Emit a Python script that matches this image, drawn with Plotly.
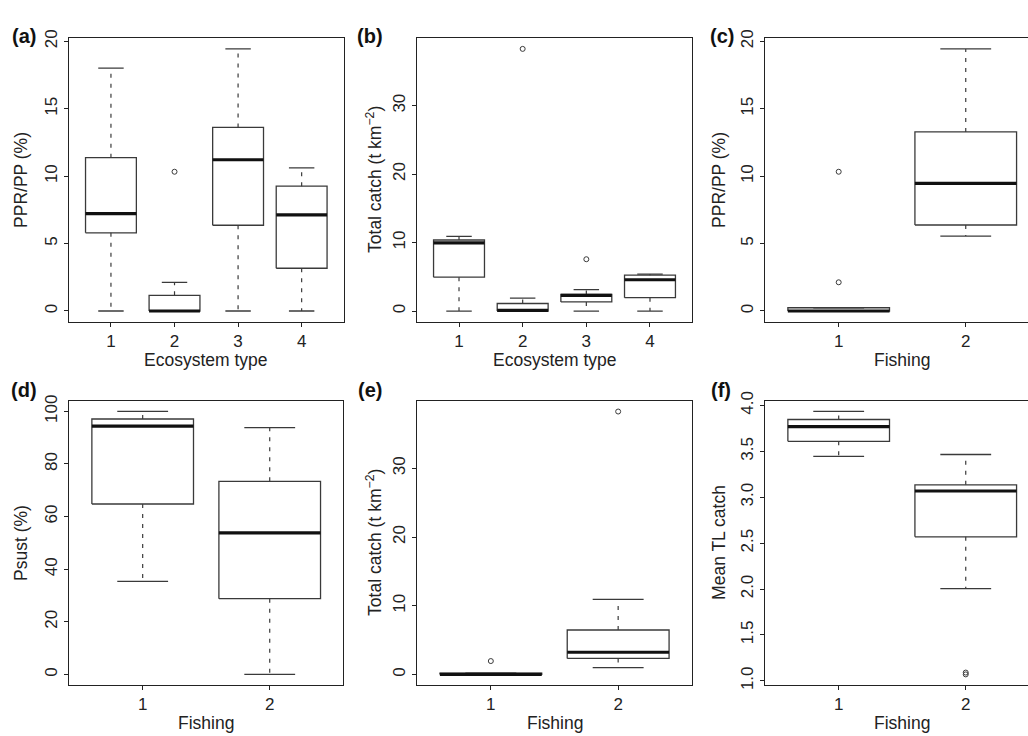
import plotly.graph_objects as go

# ---------------- data ----------------
# (a) PPR/PP (%) by ecosystem type
A_CAT = [1, 2, 3, 4]
A_LO = [0.0, 0.0, 0.0, 0.0]
A_Q1 = [5.80, 0.0, 6.36, 3.17]
A_MED = [7.23, 0.0, 11.22, 7.13]
A_Q3 = [11.37, 1.16, 13.62, 9.26]
A_HI = [18.02, 2.13, 19.44, 10.62]
A_OUT_X = [2]
A_OUT_Y = [10.33]

# (b) Total catch by ecosystem type
B_CAT = [1, 2, 3, 4]
B_LO = [0.0, 0.0, 0.0, 0.0]
B_Q1 = [4.95, 0.0, 1.33, 1.95]
B_MED = [9.95, 0.1, 2.29, 4.57]
B_Q3 = [10.38, 1.10, 2.43, 5.24]
B_HI = [10.90, 1.90, 3.14, 5.38]
B_OUT_X = [2, 3]
B_OUT_Y = [38.3, 7.57]

# (c) PPR/PP (%) by fishing
C_CAT = [1, 2]
C_LO = [0.0, 5.56]
C_Q1 = [0.0, 6.38]
C_MED = [0.0, 9.46]
C_Q3 = [0.24, 13.28]
C_HI = [0.24, 19.44]
C_OUT_X = [1, 1]
C_OUT_Y = [10.33, 2.13]

# (d) Psust (%) by fishing
D_CAT = [1, 2]
D_LO = [35.4, 0.0]
D_Q1 = [64.8, 28.8]
D_MED = [94.4, 53.8]
D_Q3 = [97.1, 73.4]
D_HI = [100.0, 93.8]
D_OUT_X = []
D_OUT_Y = []

# (e) Total catch by fishing
E_CAT = [1, 2]
E_LO = [0.0, 1.0]
E_Q1 = [0.0, 2.33]
E_MED = [0.0, 3.23]
E_Q3 = [0.2, 6.47]
E_HI = [0.2, 10.94]
E_OUT_X = [1, 2]
E_OUT_Y = [1.95, 38.28]

# (f) Mean TL catch by fishing
F_CAT = [1, 2]
F_LO = [3.445, 2.004]
F_Q1 = [3.609, 2.569]
F_MED = [3.769, 3.068]
F_Q3 = [3.847, 3.135]
F_HI = [3.936, 3.466]
F_OUT_X = [2, 2]
F_OUT_Y = [1.07, 1.09]

A_YTICKS = [0, 5, 10, 15, 20]
B_YTICKS = [0, 10, 20, 30]
C_YTICKS = [0, 5, 10, 15, 20]
D_YTICKS = [0, 20, 40, 60, 80, 100]
E_YTICKS = [0, 10, 20, 30]
F_YTICKS = [1.0, 1.5, 2.0, 2.5, 3.0, 3.5, 4.0]
F_YTICKTEXT = ["1.0", "1.5", "2.0", "2.5", "3.0", "3.5", "4.0"]

# ---------------- layout geometry ----------------
W, H = 1028, 736
FONT = "Liberation Sans, Arial, Helvetica, sans-serif"
BOXC = "#3a3a3a"
FRAME = "#222222"


def fx(s):  # screen x px -> paper fraction
    return s / W


def fy(s):  # screen y px -> paper fraction
    return 1 - s / H


fig = go.Figure()

panels = [
    # label, data, axis id, xdom px, ydom px, xrange, yrange, yticks, yticktext, ytitle, xtitle, right line, x-title centre px
    ("(a)", (A_CAT, A_LO, A_Q1, A_MED, A_Q3, A_HI, A_OUT_X, A_OUT_Y), 1, (69, 343.6), (29, 318),
     [0.34, 4.66], [-0.78, 20.22], A_YTICKS, None, "PPR/PP (%)", "Ecosystem type", True, 206),
    ("(b)", (B_CAT, B_LO, B_Q1, B_MED, B_Q3, B_HI, B_OUT_X, B_OUT_Y), 2, (417, 692), (29, 318),
     [0.34, 4.66], [-1.53, 39.83], B_YTICKS, None, "Total catch (t km<sup>−2</sup>)", "Ecosystem type", True, 554.5),
    ("(c)", (C_CAT, C_LO, C_Q1, C_MED, C_Q3, C_HI, C_OUT_X, C_OUT_Y), 3, (765, 1028), (29, 318),
     [0.42, 2.49], [-0.78, 20.22], C_YTICKS, None, "PPR/PP (%)", "Fishing", False, 902),
    ("(d)", (D_CAT, D_LO, D_Q1, D_MED, D_Q3, D_HI, D_OUT_X, D_OUT_Y), 4, (69, 343.4), (399, 689),
     [0.42, 2.58], [-4.0, 104.0], D_YTICKS, None, "Psust (%)", "Fishing", True, 206),
    ("(e)", (E_CAT, E_LO, E_Q1, E_MED, E_Q3, E_HI, E_OUT_X, E_OUT_Y), 5, (417, 692), (399, 689),
     [0.42, 2.58], [-1.53, 39.83], E_YTICKS, None, "Total catch (t km<sup>−2</sup>)", "Fishing", True, 554.5),
    ("(f)", (F_CAT, F_LO, F_Q1, F_MED, F_Q3, F_HI, F_OUT_X, F_OUT_Y), 6, (765, 1028), (399, 689),
     [0.42, 2.49], [0.955, 4.05], F_YTICKS, F_YTICKTEXT, "Mean TL catch", "Fishing", False, 902),
]

label_pos = {"(a)": (24, 27), "(b)": (370, 27), "(c)": (722, 27),
             "(d)": (24, 388), "(e)": (370, 388), "(f)": (721, 388)}
ytitle_x = {"(a)": 21, "(b)": 374, "(c)": 719, "(d)": 21, "(e)": 374, "(f)": 719}

HALF = 0.4     # half box width (boxwex 0.8)
STAP = 0.2     # half staple width
TICKSIZE = 17
TITLESIZE = 17.5

annotations = []
layout_axes = {}

for (lab, data, k, xd, yd, xr, yr, yt, ytt, ytitle, xtitle, right_line, xcen) in panels:
    cat, lo, q1, med, q3, hi, ox, oy = data
    xa = "x" if k == 1 else f"x{k}"
    ya = "y" if k == 1 else f"y{k}"

    # box outlines
    bx, by = [], []
    for c, a, b in zip(cat, q1, q3):
        bx += [c - HALF, c + HALF, c + HALF, c - HALF, c - HALF, None]
        by += [a, a, b, b, a, None]
    fig.add_trace(go.Scatter(x=bx, y=by, mode="lines", xaxis=xa, yaxis=ya,
                             line=dict(color=BOXC, width=1.3), hoverinfo="skip", showlegend=False))
    # whiskers (dashed)
    wx, wy = [], []
    for c, l, a, b, h in zip(cat, lo, q1, q3, hi):
        if h > b:
            wx += [c, c, None]; wy += [b, h, None]
        if a > l:
            wx += [c, c, None]; wy += [a, l, None]
    if wx:
        fig.add_trace(go.Scatter(x=wx, y=wy, mode="lines", xaxis=xa, yaxis=ya,
                                 line=dict(color=BOXC, width=1.2, dash="4px,6px"),
                                 hoverinfo="skip", showlegend=False))
    # staples
    sx, sy = [], []
    for c, l, h in zip(cat, lo, hi):
        sx += [c - STAP, c + STAP, None, c - STAP, c + STAP, None]
        sy += [h, h, None, l, l, None]
    fig.add_trace(go.Scatter(x=sx, y=sy, mode="lines", xaxis=xa, yaxis=ya,
                             line=dict(color=BOXC, width=1.3), hoverinfo="skip", showlegend=False))
    # medians
    mx, my = [], []
    for c, m in zip(cat, med):
        mx += [c - HALF, c + HALF, None]
        my += [m, m, None]
    fig.add_trace(go.Scatter(x=mx, y=my, mode="lines", xaxis=xa, yaxis=ya,
                             line=dict(color="#111111", width=3.2), hoverinfo="skip", showlegend=False))
    # outliers
    if ox:
        fig.add_trace(go.Scatter(x=ox, y=oy, mode="markers", xaxis=xa, yaxis=ya,
                                 marker=dict(symbol="circle-open", size=5, color=BOXC,
                                             line=dict(width=1, color=BOXC)),
                                 hoverinfo="skip", showlegend=False))

    xkey = "xaxis" if k == 1 else f"xaxis{k}"
    ykey = "yaxis" if k == 1 else f"yaxis{k}"
    layout_axes[xkey] = dict(
        domain=[fx(xd[0]), min(1.0, fx(xd[1]))], range=xr, anchor=ya,
        tickmode="array", tickvals=cat, ticktext=[str(c) for c in cat],
        showgrid=False, zeroline=False, showline=True, mirror=True,
        linecolor=FRAME, linewidth=1.2, ticks="outside", ticklen=4, tickcolor=FRAME,
        tickfont=dict(family=FONT, size=TICKSIZE, color="#222222"), fixedrange=True,
    )
    layout_axes[ykey] = dict(
        domain=[fy(yd[1]), fy(yd[0])], range=yr, anchor=xa,
        tickmode="array", tickvals=yt, ticktext=ytt if ytt else [str(v) for v in yt],
        tickangle=-90,
        showgrid=False, zeroline=False, showline=True, mirror=right_line,
        linecolor=FRAME, linewidth=1.2, ticks="outside", ticklen=4, tickcolor=FRAME,
        tickfont=dict(family=FONT, size=TICKSIZE, color="#222222"), fixedrange=True,
    )

    # panel label
    lx, ly = label_pos[lab]
    annotations.append(dict(text=f"<b>{lab}</b>", x=fx(lx), y=fy(ly), xref="paper", yref="paper",
                            xanchor="center", yanchor="middle", showarrow=False,
                            font=dict(family=FONT, size=20, color="#111111")))
    # y title
    annotations.append(dict(text=ytitle, x=fx(ytitle_x[lab]), y=fy((yd[0] + yd[1]) / 2),
                            xref="paper", yref="paper", xanchor="center", yanchor="middle",
                            textangle=-90, showarrow=False,
                            font=dict(family=FONT, size=TITLESIZE, color="#222222")))
    # x title
    xt_y = 357 if yd[0] < 100 else 728
    annotations.append(dict(text=xtitle, x=fx(xcen), y=fy(xt_y), xref="paper", yref="paper",
                            xanchor="center", yanchor="middle", showarrow=False,
                            font=dict(family=FONT, size=TITLESIZE, color="#222222")))

fig.update_layout(
    width=W, height=H, margin=dict(l=0, r=0, t=0, b=0),
    paper_bgcolor="white", plot_bgcolor="white",
    showlegend=False, annotations=annotations, **layout_axes,
)

# place the fixed-size figure at the very top-left of the page (no body margin)
POST = ("document.body.style.margin='0';"
        "document.documentElement.style.overflow='hidden';"
        "var gd=document.querySelector('.plotly-graph-div');"
        "gd.style.position='absolute';gd.style.left='0px';gd.style.top='0px';")

fig.write_html("out.html", post_script=POST, config={"displayModeBar": False})
